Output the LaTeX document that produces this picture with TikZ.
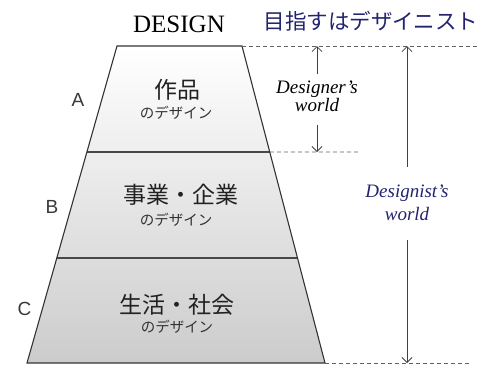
\documentclass[tikz,border=0pt]{standalone}
\usepackage{fontspec}
\setmainfont{Liberation Serif}
\newfontfamily\cjk{Noto Sans CJK JP}
\newfontfamily\arialfam{Liberation Sans}
\usetikzlibrary{arrows.meta,calc}
\definecolor{navy}{RGB}{35,35,112}
\definecolor{inkjp}{RGB}{34,34,34}
\begin{document}
\begin{tikzpicture}[x=1pt,y=1pt,
  outline/.style={draw=black!80, line width=1.1pt, line join=miter},
  divider/.style={draw=black!72, line width=1.3pt},
  guide/.style={draw=black!62, line width=0.8pt, dash pattern=on 4pt off 3pt},
  dim/.style={draw=black!75, line width=0.8pt, -{Straight Barb[length=5pt,width=10pt]}},
  letter/.style={text=black!78, font=\arialfam\fontsize{19}{22}\selectfont},
  bigjp/.style={text=inkjp, font=\cjk\fontsize{23}{26}\selectfont, inner sep=0pt},
  smalljp/.style={text=black!80, font=\cjk\fontsize{14.5}{17}\selectfont, inner sep=0pt},
  world/.style={font=\itshape\fontsize{19}{#1}\selectfont, align=center, inner sep=0pt}
]
\useasboundingbox (0,0) rectangle (483,-368);

% trapezoid corners
\coordinate (tl) at (117,-46);
\coordinate (tr) at (242,-46);
\coordinate (bl) at (27,-363);
\coordinate (br) at (325,-363);
\coordinate (d1l) at ($(tl)!0.3344!(bl)$);
\coordinate (d1r) at ($(tr)!0.3344!(br)$);
\coordinate (d2l) at ($(tl)!0.6688!(bl)$);
\coordinate (d2r) at ($(tr)!0.6688!(br)$);

\shade[top color=white, middle color=black!6, bottom color=black!20]
  (tl) -- (tr) -- (br) -- (bl) -- cycle;
\draw[divider] (d1l) -- (d1r);
\draw[divider] (d2l) -- (d2r);
\draw[outline] (tl) -- (tr) -- (br) -- (bl) -- cycle;

% dashed guides
\coordinate (g1) at (477,-46);
\coordinate (g2) at (360,-152);
\coordinate (g3) at (470,-363);
\draw[guide] (tr) -- (g1);
\draw[guide] (d1r) -- (g2);
\draw[guide] (br) -- (g3);

% titles
\node[font=\fontsize{25}{30}\selectfont, inner sep=0pt] (design) at (179,-24.5) {DESIGN};
\node[text=navy, font=\cjk\fontsize{21.5}{24}\selectfont, inner sep=0pt] (goal) at (371,-21) {目指すはデザイニスト};

% letters
\node[letter] (la) at (78,-100) {A};
\node[letter] (lb) at (52,-207) {B};
\node[letter] (lc) at (24.5,-309) {C};

% level texts
\node[bigjp] (ta) at (177,-90) {作品};
\node[smalljp] (sa) at (176,-113) {のデザイン};
\node[bigjp] (tb) at (181,-195) {事業・企業};
\node[smalljp] (sb) at (176,-220) {のデザイン};
\node[bigjp] (tc) at (177,-305) {生活・社会};
\node[smalljp] (sc) at (177,-327) {のデザイン};

% Designer's world
\node[world=18] (dw) at (317,-96.5) {Designer’s\\world};
\draw[dim] ([yshift=7pt]dw.north) -- (dw.north |- tr);
\draw[dim] ([yshift=-13pt]dw.south) -- (dw.south |- d1r);

% Designist's world
\node[world=23, text=navy] (dn) at (407,-203) {Designist’s\\world};
\draw[dim] ([yshift=18pt]dn.north) -- (dn.north |- tr);
\draw[dim] ([yshift=-19pt]dn.south) -- (dn.south |- br);
\end{tikzpicture}
\end{document}
